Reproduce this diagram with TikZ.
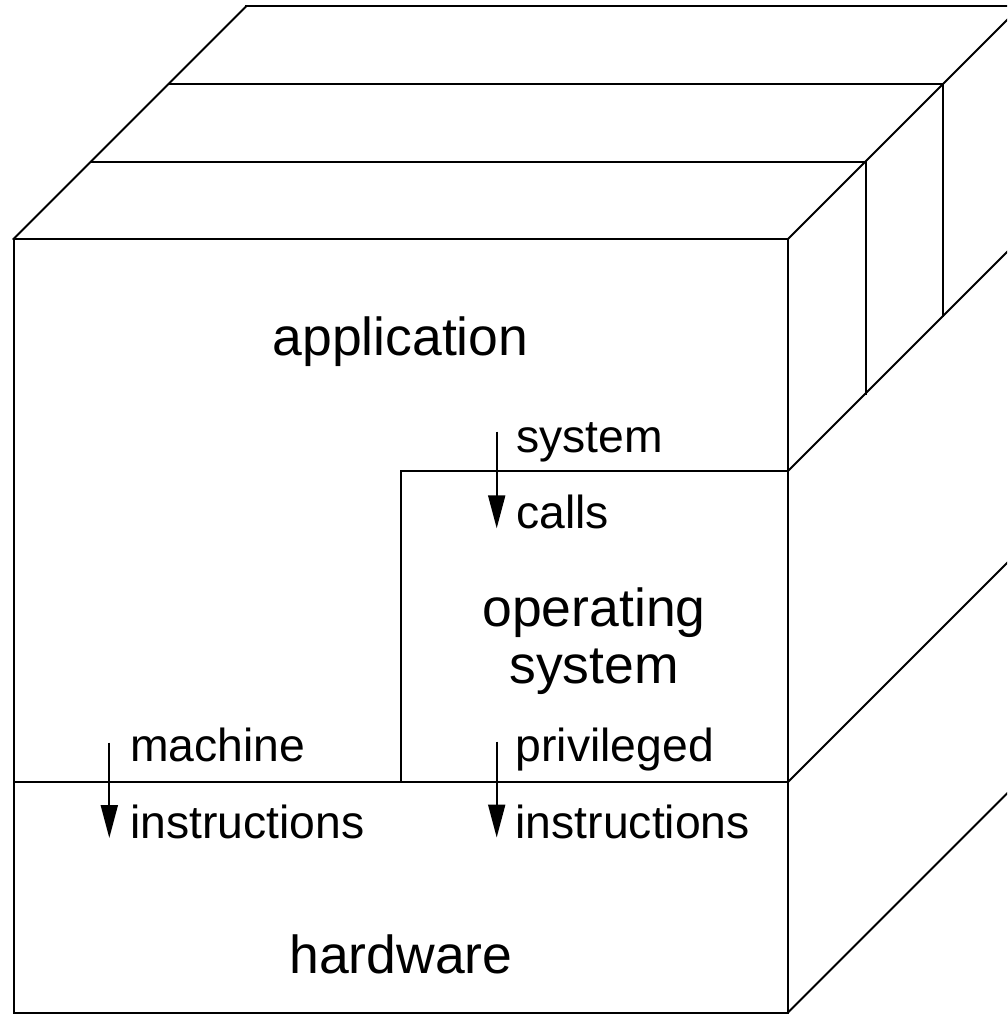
\documentclass[tikz,border=0pt]{standalone}
\usepackage{fontspec}
\setmainfont{Liberation Sans}
\usetikzlibrary{arrows.meta}
\begin{document}
\begin{tikzpicture}[x=1pt,y=-1pt,
  edge/.style={line width=2pt, line join=miter, line cap=rect},
  big/.style={font=\fontsize{53.5}{57}\selectfont, inner sep=0pt, anchor=base},
  small/.style={font=\fontsize{46.3}{50}\selectfont, inner sep=0pt, anchor=base west},
  flow/.style={line width=2pt, -{Triangle[length=33pt,width=17pt]}}]
\useasboundingbox (0,0) rectangle (1007,1014);
\clip (0,0) rectangle (1007,1014);

% front face of the block
\coordinate (fTL) at (13.5,239);
\coordinate (fTR) at (788,239);
\coordinate (fBR) at (788,1012.5);
\coordinate (fBL) at (13.5,1012.5);
\coordinate (hwL) at (13.5,782);
\coordinate (hwR) at (788,782);
\coordinate (osB) at (400.7,782);
\coordinate (osT) at (400.7,471);
\coordinate (osR) at (788,471);

% stacked layers behind the front (depth step 77.5)
\coordinate (l1L) at (91,161.5);   \coordinate (l1R) at (865.5,161.5);
\coordinate (l2L) at (168.5,84);   \coordinate (l2R) at (943,84);
\coordinate (l3L) at (246,6.5);    \coordinate (l3R) at (1020.5,6.5);
\coordinate (l1B) at (865.5,393.5);
\coordinate (l2B) at (943,316);
\coordinate (l3B) at (1020.5,238.5);
\coordinate (hwD) at (1020.5,549.5);
\coordinate (btD) at (1020.5,780);

\draw[edge] (fTL) rectangle (fBR);
\draw[edge] (hwL) -- (hwR);
\draw[edge] (osB) -- (osT) -- (osR);

\draw[edge] (l1L) -- (l1R);
\draw[edge] (l2L) -- (l2R);
\draw[edge] (l3L) -- (l3R);
\draw[edge] (fTL) -- (l3L);
\draw[edge] (fTR) -- (l3R);
\draw[edge] (l1R) -- (l1B);
\draw[edge] (l2R) -- (l2B);
\draw[edge] (l3R) -- (l3B);
\draw[edge] (osR) -- (l3B);
\draw[edge] (hwR) -- (hwD);
\draw[edge] (fBR) -- (btD);

% layer names
\node[big] (app) at (400.5,355) {application};
\node[big] (os1) at (594,626.7) {operating};
\node[big] (os2) at (594,683.3) {system};
\node[big] (hw) at (401,973.3) {hardware};

% interface labels
\node[small] (sys) at (516,452.7) {system};
\node[small] (cal) at (516,528.3) {calls};
\node[small] (prv) at (515.5,761.7) {privileged};
\node[small] (ins2) at (515.5,838.3) {instructions};
\node[small] (mch) at (130,761.7) {machine};
\node[small] (ins1) at (130,838.3) {instructions};

% downward calls between layers
\coordinate (a1s) at (496.7,431.7); \coordinate (a1e) at (496.7,528.3);
\coordinate (a2s) at (496.7,741.7); \coordinate (a2e) at (496.7,837.5);
\coordinate (a3s) at (109.3,742.7); \coordinate (a3e) at (109.3,838);
\draw[flow] (a1s) -- (a1e);
\draw[flow] (a2s) -- (a2e);
\draw[flow] (a3s) -- (a3e);
\end{tikzpicture}
\end{document}
